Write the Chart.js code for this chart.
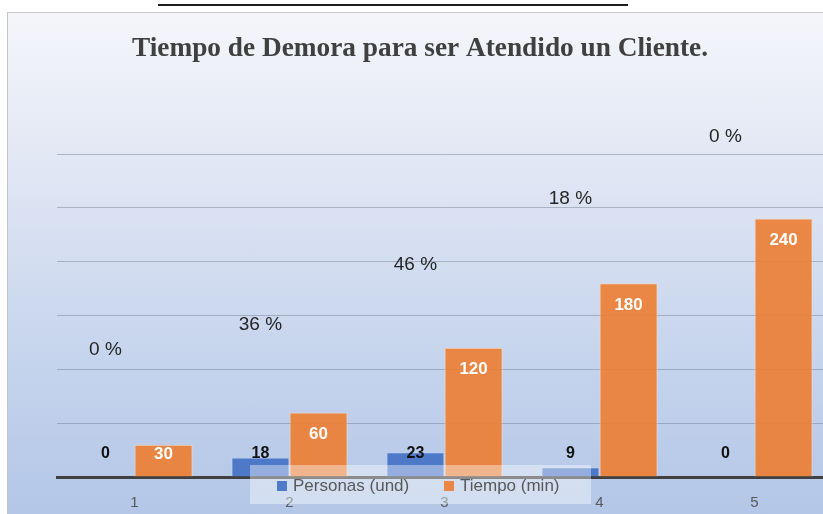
<!DOCTYPE html>
<html>
<head>
<meta charset="utf-8">
<script src="https://cdn.jsdelivr.net/npm/chart.js@4"></script>
<style>
  html, body { margin: 0; padding: 0; width: 823px; height: 514px; overflow: hidden; background: #fff; }
  #linea { position: absolute; left: 158px; top: 4px; width: 470px; height: 2px; background: #1e1e1e; }
  #marco {
    position: absolute; left: 7px; top: 12px; width: 850px; height: 520px;
    border: 1px solid #c6c6c6;
    background: linear-gradient(to bottom, #f5f6fb 0%, #e4e9f5 25%, #cad7ee 60%, #b1c5e7 100%);
  }
  canvas { display: block; }
</style>
</head>
<body>
<div id="linea"></div>
<div id="marco"><canvas id="grafico" width="850" height="520"></canvas></div>
<script>
const titulo = "Tiempo de Demora para ser Atendido un Cliente.";
const categorias = ["1", "2", "3", "4", "5"];
const personas = [0, 18, 23, 9, 0];
const tiempo = [30, 60, 120, 180, 240];
// altura (en unidades del eje) donde Excel dejó cada etiqueta de porcentaje
const alturaPorcentaje = [118, 141, 197, 258, 316];
const nombresSeries = ["Personas (und)", "Tiempo (min)"];

const totalPersonas = personas.reduce((a, b) => a + b, 0);

// etiquetas de datos, leyenda y titulo
const extras = {
  id: "extras",
  afterDatasetsDraw(chart) {
    const ctx = chart.ctx;
    const y = chart.scales.y;
    const base = y.getPixelForValue(0);
    ctx.save();
    ctx.textAlign = "center";
    ctx.textBaseline = "middle";
    chart.getDatasetMeta(0).data.forEach((bar, i) => {
      ctx.font = 'bold 16px "Liberation Sans"';
      ctx.fillStyle = "#111";
      ctx.fillText(personas[i], bar.x, base - 23);
      const pct = Math.round((personas[i] / totalPersonas) * 100);
      ctx.font = '19px "Liberation Sans"';
      ctx.fillStyle = "#262626";
      ctx.fillText(pct + " %", bar.x, y.getPixelForValue(alturaPorcentaje[i]));
    });
    chart.getDatasetMeta(1).data.forEach((bar, i) => {
      ctx.font = 'bold 17px "Liberation Sans"';
      ctx.fillStyle = "#fff";
      ctx.fillText(tiempo[i], bar.x, Math.min(bar.y + 22, base - 23));
    });
    ctx.restore();
  },
  afterDraw(chart) {
    const ctx = chart.ctx;
    ctx.save();
    // leyenda encima de las barras, como en el original
    ctx.fillStyle = "rgba(255,255,255,0.4)";
    ctx.fillRect(242, 452, 341, 39);
    const posX = [269, 436];
    ctx.textBaseline = "middle";
    ctx.textAlign = "left";
    ctx.font = '17px "Liberation Sans"';
    chart.data.datasets.forEach((ds, i) => {
      ctx.fillStyle = ds.backgroundColor;
      ctx.fillRect(posX[i], 468, 10, 10);
      ctx.fillStyle = "#595959";
      ctx.fillText(ds.label, posX[i] + 16, 473);
    });
    // titulo
    ctx.font = 'bold 28px "Liberation Serif"';
    ctx.fillStyle = "#404040";
    ctx.textAlign = "center";
    ctx.textBaseline = "alphabetic";
    const ancho = ctx.measureText(titulo).width;
    ctx.translate(412, 43);
    ctx.scale(576 / ancho, 1);
    ctx.fillText(titulo, 0, 0);
    ctx.restore();
  }
};

new Chart(document.getElementById("grafico"), {
  type: "bar",
  data: {
    labels: categorias,
    datasets: [
      {
        label: nombresSeries[0],
        data: personas,
        backgroundColor: "rgba(68,114,196,0.92)",
        borderColor: "rgba(200,215,240,0.6)",
        borderWidth: 1,
        categoryPercentage: 0.75,
        barPercentage: 1,
      },
      {
        label: nombresSeries[1],
        data: tiempo,
        backgroundColor: "rgba(237,125,49,0.9)",
        borderColor: "rgba(255,215,185,0.8)",
        borderWidth: 1,
        categoryPercentage: 0.75,
        barPercentage: 1,
      },
    ],
  },
  options: {
    responsive: false,
    animation: false,
    devicePixelRatio: 1,
    layout: {
      padding: { left: 49, right: 26, top: 141, bottom: 4 },
    },
    plugins: {
      legend: { display: false },
      title: { display: false },
      tooltip: { enabled: false },
    },
    scales: {
      x: {
        grid: { display: false, drawTicks: false },
        border: { display: true, color: "#404040", width: 3 },
        ticks: {
          color: "#595959",
          padding: 17,
          font: { family: "Liberation Sans", size: 15 },
        },
      },
      y: {
        min: 0,
        max: 300,
        ticks: { display: false, stepSize: 50 },
        grid: { color: "rgba(110,120,140,0.45)", lineWidth: 1, drawTicks: false },
        border: { display: false },
      },
    },
  },
  plugins: [extras],
});
</script>
</body>
</html>
